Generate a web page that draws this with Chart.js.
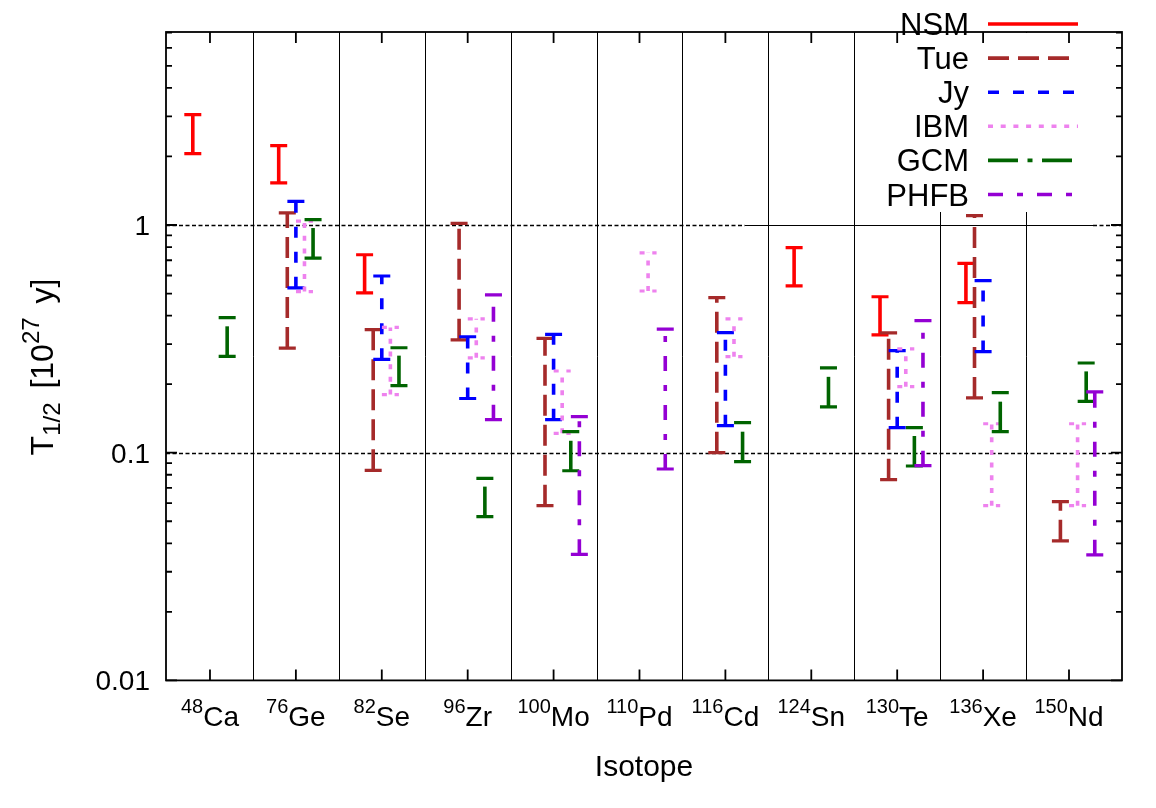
<!DOCTYPE html>
<html><head><meta charset="utf-8">
<script src="https://cdn.jsdelivr.net/npm/chart.js@4.4.1/dist/chart.umd.min.js"></script>
<style>html,body{margin:0;padding:0;background:#fff;overflow:hidden}canvas{display:block}</style>
</head><body>
<canvas id="c" width="1156" height="808"></canvas>
<script>
// ---------- data ----------
const massNumbers = ['48','76','82','96','100','110','116','124','130','136','150'];
const elements    = ['Ca','Ge','Se','Zr','Mo','Pd','Cd','Sn','Te','Xe','Nd'];
const seriesNames = ['NSM','Tue','Jy','IBM','GCM','PHFB'];

const nsmLow   = [2.06, 1.53, 0.503, null, null, null, null, 0.54, 0.329, 0.456, null];
const nsmHigh  = [3.05, 2.23, 0.74,  null, null, null, null, 0.795, 0.484, 0.679, null];
const tueLow   = [null, 0.288, 0.0837, 0.313, 0.0585, null, 0.10, null, 0.0761, 0.174, 0.041];
const tueHigh  = [null, 1.13,  0.347,  1.017, 0.318,  null, 0.48, null, 0.336,  1.099, 0.061];
const jyLow    = [null, 0.53, 0.257, 0.173, 0.1396, null, 0.1314, null, 0.1288, 0.278, null];
const jyHigh   = [null, 1.27, 0.597, 0.323, 0.331,  null, 0.3366, null, 0.2806, 0.57,  null];
const ibmLow   = [null, 0.51, 0.18,  0.261, 0.1217, 0.513, 0.264, null, 0.195, 0.0585, 0.0585];
const ibmHigh  = [null, 1.04, 0.355, 0.387, 0.2284, 0.755, 0.387, null, 0.286, 0.134,  0.134];
const gcmLow   = [0.265, 0.716, 0.197, 0.0524, 0.0833, null, 0.0913, 0.159, 0.0874, 0.1237, 0.168];
const gcmHigh  = [0.392, 1.055, 0.289, 0.0772, 0.1237, null, 0.1355, 0.236, 0.1288, 0.1835, 0.2477];
const phfbLow  = [null, null, null, 0.1396, 0.0358, 0.0848, null, null, 0.0877, null, 0.0356];
const phfbHigh = [null, null, null, 0.493,  0.144,  0.349,  null, null, 0.38,   null, 0.185];

const yTickValues = [0.01, 0.1, 1];
const yTickLabels = ['0.01', '0.1', '1'];
const gridValues  = [0.1, 1];
const xTitle = 'Isotope';

// ---------- styles ----------
const FONT = "'Liberation Sans', Arial, Helvetica, sans-serif";
const styles = [
  {color:'#ff0000', dash:[],               offset:-0.2},
  {color:'#a52a2a', dash:[21,9],           offset:-0.1},
  {color:'#0000ff', dash:[11,14],          offset: 0.0},
  {color:'#ee82ee', dash:[5,7.7],          offset: 0.1},
  {color:'#006400', dash:[30,9.5,5,9.5],   offset: 0.2},
  {color:'#9400d3', dash:[15,14,6,14],     offset: 0.3}
];
const lows  = [nsmLow, tueLow, jyLow, ibmLow, gcmLow, phfbLow];
const highs = [nsmHigh, tueHigh, jyHigh, ibmHigh, gcmHigh, phfbHigh];

const datasets = seriesNames.map((name, k) => ({
  label: name,
  data: elements.map((_, i) => lows[k][i] == null ? null :
        {x: i + styles[k].offset, y: lows[k][i], yHigh: highs[k][i]}).filter(d => d),
  pointRadius: 0, pointHoverRadius: 0, showLine: false,
  borderColor: styles[k].color, backgroundColor: styles[k].color
}));

const LW = 3.6, CAP = 8.5;
const legendBox = {left: 860, right: 1093, bottom: 212};

const errorBars = {
  id: 'errorBars',
  afterDatasetsDraw(chart) {
    const ctx = chart.ctx, ys = chart.scales.y;
    chart.data.datasets.forEach((ds, k) => {
      const meta = chart.getDatasetMeta(k);
      const st = styles[k];
      meta.data.forEach((el, j) => {
        const d = ds.data[j];
        const x = el.x, yLo = ys.getPixelForValue(d.y), yHi = ys.getPixelForValue(d.yHigh);
        ctx.save();
        ctx.strokeStyle = st.color; ctx.lineWidth = LW; ctx.lineCap = 'butt';
        ctx.setLineDash(st.dash);
        ctx.beginPath(); ctx.moveTo(x, yLo); ctx.lineTo(x, yHi); ctx.stroke();
        ctx.setLineDash(k === 3 ? st.dash : []);
        ctx.lineWidth = 3.2;
        ctx.beginPath();
        ctx.moveTo(x - CAP, yLo); ctx.lineTo(x + CAP, yLo);
        ctx.moveTo(x - CAP, yHi); ctx.lineTo(x + CAP, yHi);
        ctx.stroke();
        ctx.restore();
      });
    });
  }
};

const decor = {
  id: 'decor',
  beforeDatasetsDraw(chart) {
    const ctx = chart.ctx, a = chart.chartArea, xs = chart.scales.x, ys = chart.scales.y;
    ctx.save();
    // category separators
    ctx.strokeStyle = '#000'; ctx.lineWidth = 1;
    for (let k = 0; k < elements.length - 1; k++) {
      const x = Math.round(xs.getPixelForValue(k + 0.5)) + 0.5;
      ctx.beginPath(); ctx.moveTo(x, a.bottom); ctx.lineTo(x, a.top); ctx.stroke();
    }
    // opaque key area
    ctx.fillStyle = '#fff';
    ctx.fillRect(legendBox.left, a.top + 1, legendBox.right - legendBox.left, legendBox.bottom - a.top - 1);
    // grid lines
    gridValues.forEach(v => {
      const y = Math.round(ys.getPixelForValue(v)) + 0.5;
      ctx.lineWidth = 1.3; ctx.strokeStyle = '#000';
      if (v === 1) {
        ctx.setLineDash([4, 2.5]);
        ctx.beginPath(); ctx.moveTo(a.left, y); ctx.lineTo(745, y); ctx.stroke();
        ctx.beginPath(); ctx.moveTo(legendBox.right, y); ctx.lineTo(a.right, y); ctx.stroke();
        ctx.setLineDash([]); ctx.lineWidth = 1;
        ctx.beginPath(); ctx.moveTo(745, y); ctx.lineTo(legendBox.right, y); ctx.stroke();
      } else {
        ctx.setLineDash([4, 2.5]);
        ctx.beginPath(); ctx.moveTo(a.left, y); ctx.lineTo(a.right, y); ctx.stroke();
      }
      ctx.setLineDash([]);
    });
    ctx.restore();
  },
  afterDraw(chart) {
    const ctx = chart.ctx, a = chart.chartArea, xs = chart.scales.x, ys = chart.scales.y;
    ctx.save();
    ctx.strokeStyle = '#000'; ctx.fillStyle = '#000';
    // frame
    ctx.lineWidth = 1.8;
    ctx.strokeRect(a.left, a.top, a.right - a.left, a.bottom - a.top);
    // x ticks (bottom and top)
    elements.forEach((_, i) => {
      const x = xs.getPixelForValue(i);
      ctx.beginPath();
      ctx.moveTo(x, a.bottom); ctx.lineTo(x, a.bottom - 11);
      ctx.moveTo(x, a.top); ctx.lineTo(x, a.top + 11);
      ctx.stroke();
    });
    // y ticks, major and minor, left and right
    yTickValues.forEach(dec => {
      for (let m = 1; m <= 9; m++) {
        const v = dec * m;
        if (v > ys.max) break;
        const y = ys.getPixelForValue(v);
        const len = m === 1 ? 11 : 6;
        ctx.beginPath();
        ctx.moveTo(a.left, y); ctx.lineTo(a.left + len, y);
        ctx.moveTo(a.right, y); ctx.lineTo(a.right - len, y);
        ctx.stroke();
      }
    });
    // y tick labels
    ctx.font = '28px ' + FONT; ctx.textAlign = 'right'; ctx.textBaseline = 'alphabetic';
    yTickValues.forEach((v, i) => {
      ctx.fillText(yTickLabels[i], 150, ys.getPixelForValue(v) + 10);
    });
    // x tick labels with superscript mass numbers
    ctx.textAlign = 'left';
    elements.forEach((el, i) => {
      const cx = xs.getPixelForValue(i);
      ctx.font = '20px ' + FONT; const w1 = ctx.measureText(massNumbers[i]).width;
      ctx.font = '28px ' + FONT; const w2 = ctx.measureText(el).width;
      const x0 = cx - (w1 + w2) / 2;
      ctx.font = '20px ' + FONT; ctx.fillText(massNumbers[i], x0, 713);
      ctx.font = '28px ' + FONT; ctx.fillText(el, x0 + w1, 726);
    });
    // x title
    ctx.font = '30px ' + FONT; ctx.textAlign = 'center';
    ctx.fillText(xTitle, (a.left + a.right) / 2, 776);
    // y title  T_{1/2} [10^{27} y]
    const parts = [
      {t:'T', s:32, dy:0, gap:0}, {t:'1/2', s:24, dy:7, gap:5}, {t:' [10', s:32, dy:0, gap:0},
      {t:'27', s:24, dy:-14, gap:5}, {t:' y]', s:32, dy:0, gap:0}
    ];
    let total = 0;
    parts.forEach(p => { ctx.font = p.s + 'px ' + FONT; p.w = ctx.measureText(p.t).width + p.gap; total += p.w; });
    ctx.save();
    ctx.translate(53, 367); ctx.rotate(-Math.PI / 2);
    ctx.textAlign = 'left';
    let u = -total / 2;
    parts.forEach(p => { ctx.font = p.s + 'px ' + FONT; ctx.fillText(p.t, u, p.dy); u += p.w; });
    ctx.restore();
    // legend
    seriesNames.forEach((name, k) => {
      const base = 35 + 34.1 * k;
      ctx.font = '31px ' + FONT; ctx.textAlign = 'right'; ctx.fillStyle = '#000';
      ctx.fillText(name, 969, base);
      const ly = base - 11;
      ctx.strokeStyle = styles[k].color; ctx.lineWidth = LW;
      ctx.setLineDash(styles[k].dash);
      ctx.beginPath(); ctx.moveTo(988, ly); ctx.lineTo(1078, ly); ctx.stroke();
      ctx.setLineDash([]);
    });
    ctx.restore();
  }
};

new Chart(document.getElementById('c'), {
  type: 'scatter',
  data: { datasets },
  options: {
    responsive: false, animation: false, devicePixelRatio: 1,
    layout: { padding: { left: 166, top: 32, right: 34, bottom: 127.6 } },
    plugins: { legend: { display: false }, tooltip: { enabled: false } },
    events: [],
    scales: {
      x: { type: 'linear', min: -0.512, max: 10.617, display: false },
      y: { type: 'logarithmic', min: 0.01, max: 7.04, display: false }
    }
  },
  plugins: [decor, errorBars]
});
</script>
</body></html>
